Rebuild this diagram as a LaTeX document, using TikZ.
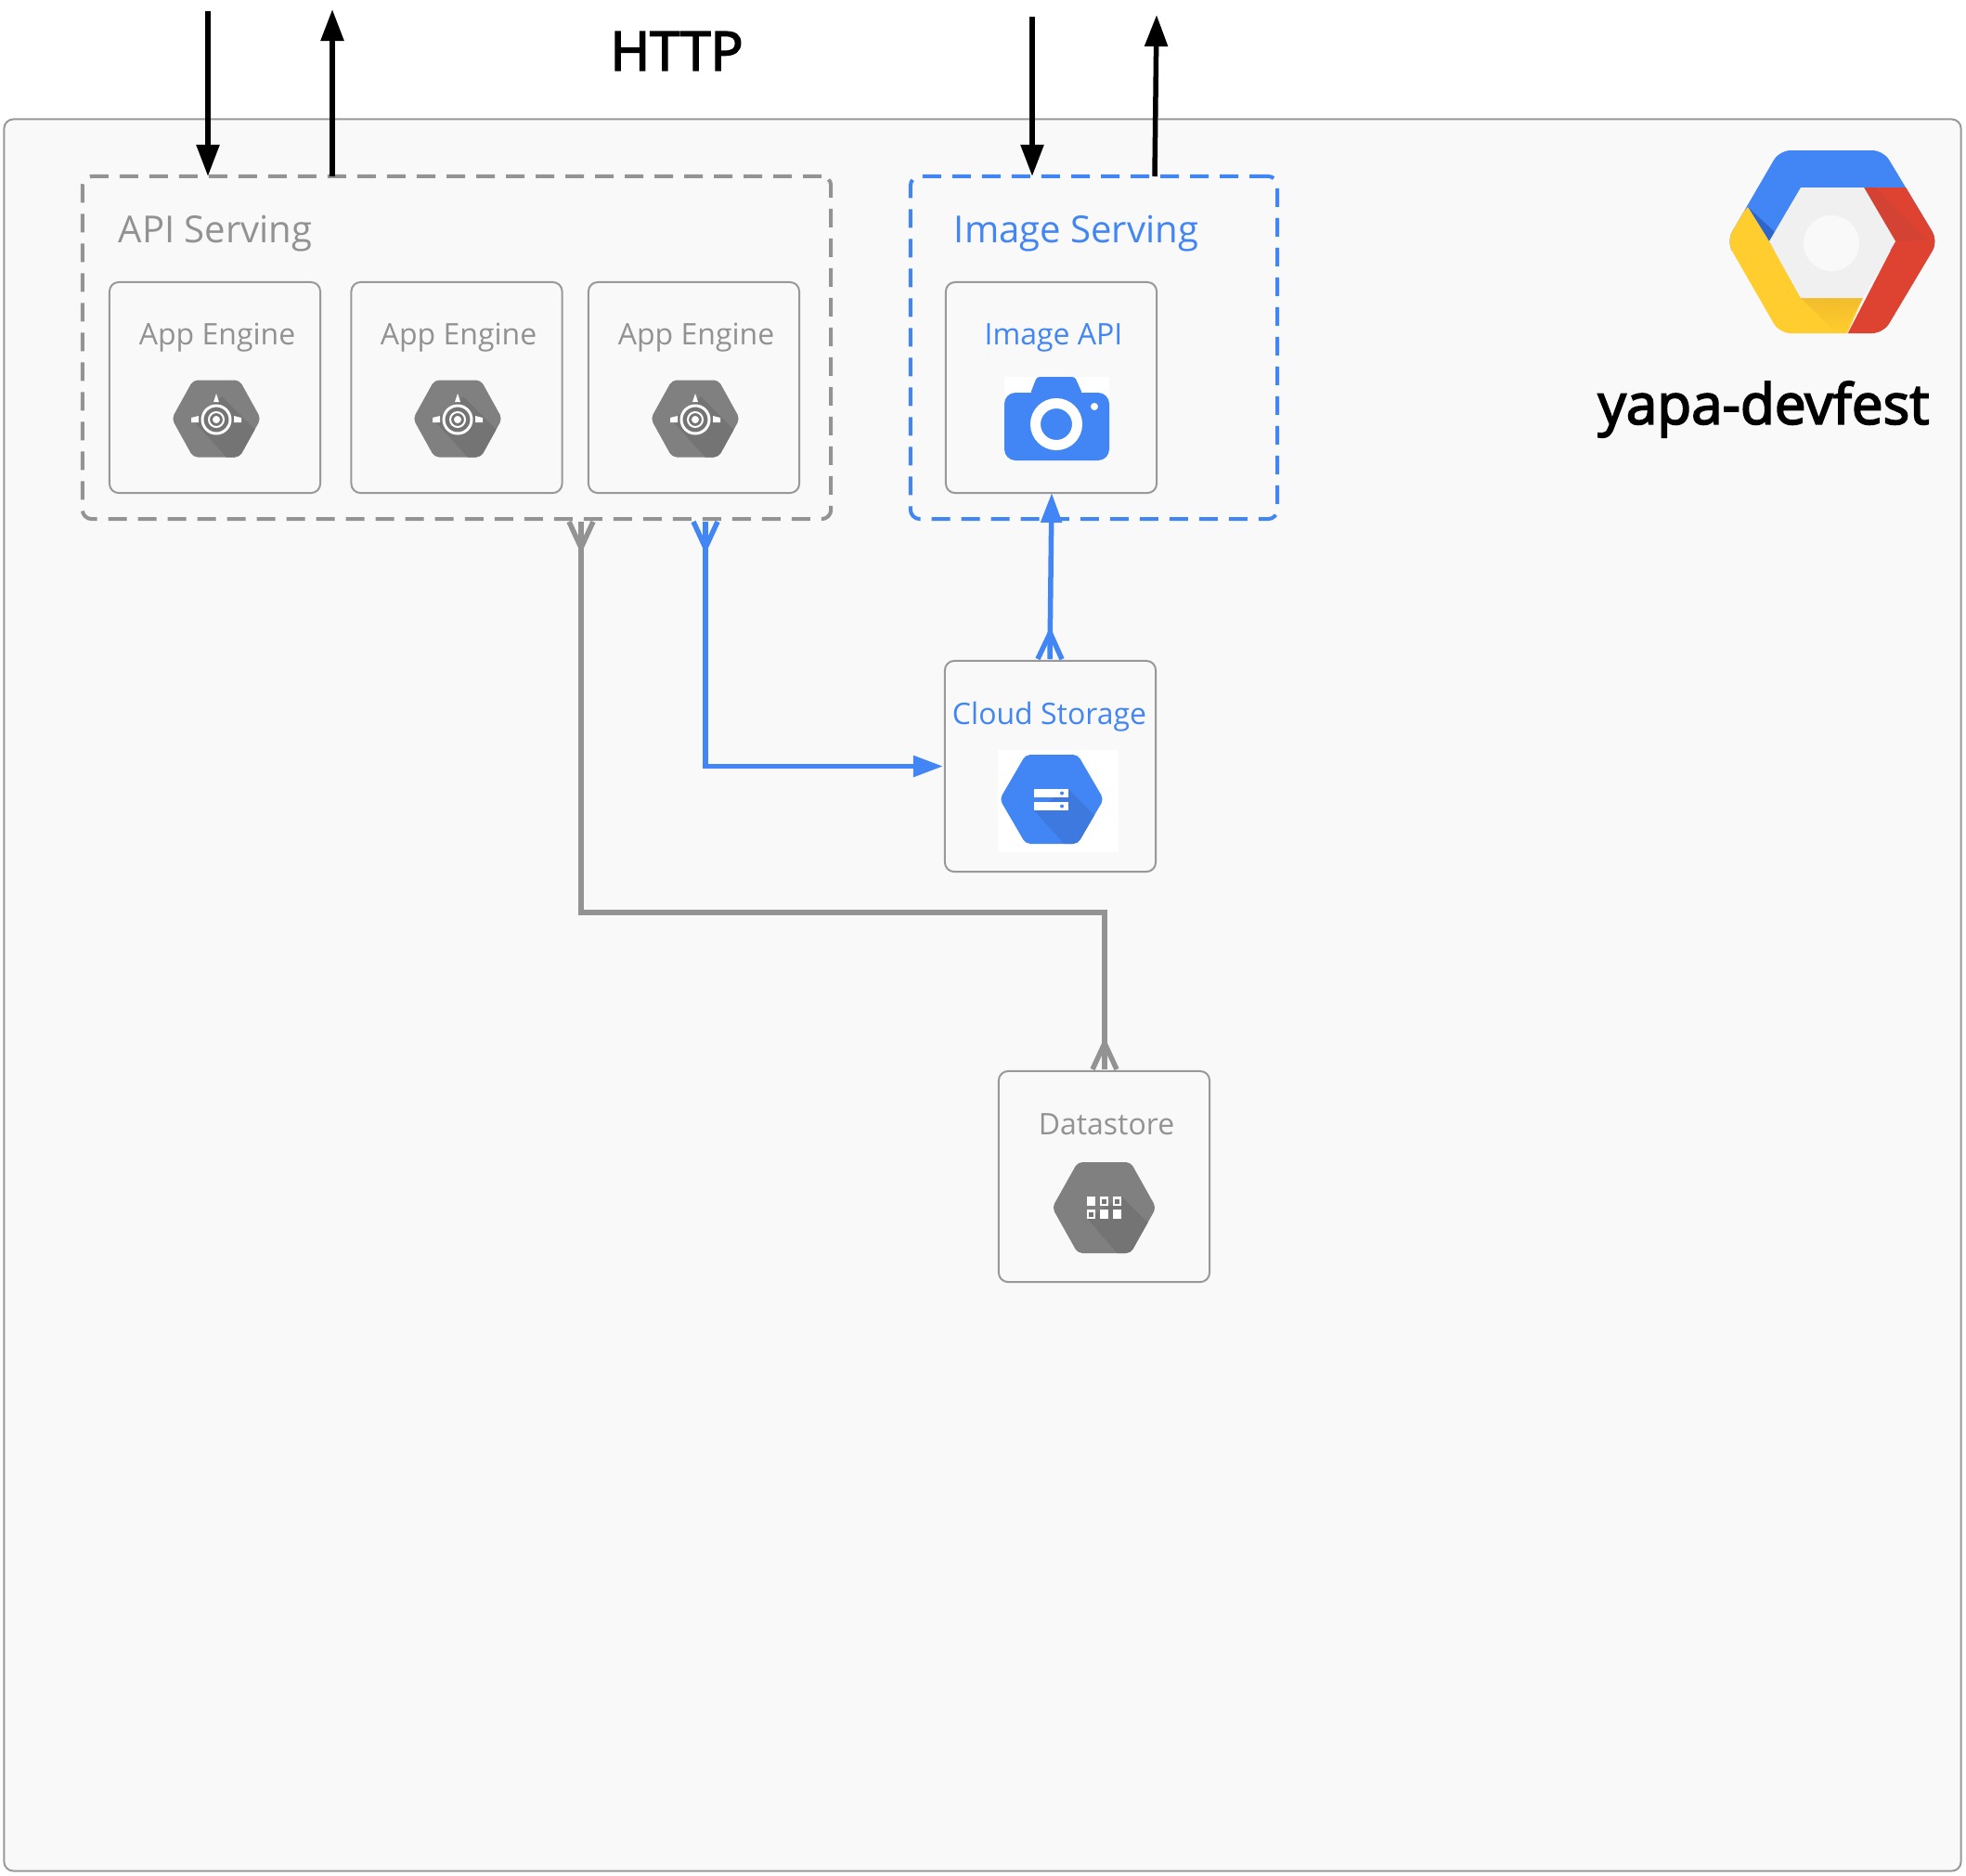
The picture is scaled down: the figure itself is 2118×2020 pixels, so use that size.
\documentclass[tikz,border=0pt]{standalone}
\usepackage{fontspec}
\setmainfont{Open Sans}
\newfontfamily\headfont[FakeBold=3]{Open Sans}
\usetikzlibrary{arrows.meta}

\definecolor{framefill}{HTML}{F9F9F9}
\definecolor{edgegray}{HTML}{999999}
\definecolor{textgray}{HTML}{929292}
\definecolor{linegray}{HTML}{939393}
\definecolor{gblue}{HTML}{4285F4}
\definecolor{gblueshade}{HTML}{3D79DE}
\definecolor{hexgray}{HTML}{808080}
\definecolor{hexshade}{HTML}{747474}
\definecolor{gred}{HTML}{DD4330}
\definecolor{gredshade}{HTML}{D34233}
\definecolor{gyellow}{HTML}{FFCD2E}
\definecolor{gyellowshade}{HTML}{F2BC2B}
\definecolor{gbluedark}{HTML}{2F66CC}

\pgfdeclarearrow{
  name = Crow,
  setup code = {
    \pgfarrowssettipend{0pt}
    \pgfarrowssetlineend{0pt}
    \pgfarrowssetbackend{-8pt}
    \pgfarrowssetvisualbackend{-8pt}
  },
  drawing code = {
    \pgfsetbuttcap
    \pgfpathmoveto{\pgfqpoint{0pt}{3.7pt}}
    \pgfpathlineto{\pgfqpoint{-8pt}{0pt}}
    \pgfpathlineto{\pgfqpoint{0pt}{-3.7pt}}
    \pgfusepathqstroke
  }
}

\newcommand{\hexpath}[3]{({-#1},0) -- ({-#2},{-#3}) -- (#2,{-#3}) -- (#1,0) -- (#2,#3) -- ({-#2},#3) -- cycle}

\tikzset{
  servicebox/.style={draw=edgegray, line width=0.02cm, rounded corners=0.1cm, outer sep=0pt, minimum width=2.27cm, minimum height=2.27cm},
  groupbox/.style={line width=0.04cm, rounded corners=0.1cm, outer sep=0pt, dash pattern=on 0.2cm off 0.12cm},
  graylabel/.style={text=textgray, font=\fontsize{9.1}{11}\selectfont},
  bluelabel/.style={text=gblue, font=\fontsize{9.1}{11}\selectfont},
  http/.style={line width=0.055cm, -{Triangle[length=0.34cm, width=0.24cm]}},
  dataline/.style={line width=0.055cm},
  appicon/.pic={
    \begin{scope}
      \clip[rounded corners=0.05cm] \hexpath{48}{25}{41.5};
      \fill[hexgray] (-50,-45) rectangle (50,45);
      \fill[hexshade] (6,-24) -- (55,25) -- (55,45) -- (14,45) -- (-25,2) -- cycle;
    \end{scope}
    \draw[white, line width=0.03cm] (0,1) circle (15);
    \draw[white, line width=0.02cm] (0,1) circle (8);
    \fill[white] (0,1) circle (4);
    \fill[white] (-3,-18) -- (3,-18) -- (0,-27) -- cycle;
    \fill[white] (-27,-1) -- (-19,-3) -- (-19,4) -- (-27,4) -- cycle;
    \fill[white] (27,-1) -- (19,-3) -- (19,4) -- (27,4) -- cycle;
  },
  storageicon/.pic={
    \fill[white] (-58,-53) rectangle (72,57);
    \begin{scope}
      \clip[rounded corners=0.05cm] \hexpath{56}{28}{48};
      \fill[gblue] (-60,-50) rectangle (60,50);
      \fill[gblueshade] (18,-11) -- (60,31) -- (60,50) -- (15,50) -- (-19,12) -- cycle;
    \end{scope}
    \fill[white] (-19,-11) rectangle (18,-2);
    \fill[white] (-19,3) rectangle (18,12);
    \fill[gblue] (11,-6.5) circle (2);
    \fill[gblue] (11,7.5) circle (2);
  },
  storeicon/.pic={
    \begin{scope}
      \clip[rounded corners=0.05cm] \hexpath{56}{28.5}{49};
      \fill[hexgray] (-60,-50) rectangle (60,50);
      \fill[hexshade] (19,-12) -- (60,29) -- (60,50) -- (15,50) -- (-18,12) -- cycle;
    \end{scope}
    \foreach \cx/\cy in {-14/-7, 14/7, 0/7} \fill[white] (\cx-4.7,\cy-4.7) rectangle (\cx+4.7,\cy+4.7);
    \foreach \cx/\cy in {0/-7, 14/-7, -14/7} {
      \fill[white] (\cx-4.7,\cy-4.7) rectangle (\cx+4.7,\cy+4.7);
      \fill[hexshade] (\cx-2.5,\cy-2.5) rectangle (\cx+2.5,\cy+2.5);
    }
  },
}

\begin{document}
\begin{tikzpicture}[x=0.01cm, y=-0.01cm]
    \useasboundingbox (0,0) rectangle (2118,2020);

    % Project frame
    \node[draw=edgegray, fill=framefill, line width=0.02cm, rounded corners=0.1cm, minimum width=21.07cm, minimum height=18.86cm] (frame) at (1058.5,1072) {};

    % Groups
    \node[groupbox, draw=linegray, minimum width=8.06cm, minimum height=3.69cm] (api) at (492,374.5) {};
    \node[groupbox, draw=gblue, minimum width=3.95cm, minimum height=3.69cm] (img) at (1178.5,374.5) {};
    \node[graylabel, font=\fontsize{11.4}{14}\selectfont] (apilabel) at (232,252) {API Serving};
    \node[bluelabel, font=\fontsize{11.4}{14}\selectfont] (imglabel) at (1159.5,252) {Image Serving};

    % App Engine
    \node[servicebox] (app1) at (231.5,417.5) {};
    \node[servicebox] (app2) at (492,417.5) {};
    \node[servicebox] (app3) at (747.5,417.5) {};
    \node[graylabel] (app1label) at (234,364) {App Engine};
    \node[graylabel] (app2label) at (494,364) {App Engine};
    \node[graylabel] (app3label) at (750,364) {App Engine};
    \pic at (233,451) {appicon};
    \pic at (493,451) {appicon};
    \pic at (749,451) {appicon};

    % Image API
    \node[servicebox] (imgapi) at (1132.5,417.5) {};
    \node[bluelabel] (imgapilabel) at (1135,364) {Image API};
    \fill[white] (1082,406) rectangle (1195,496);
    \fill[gblue, rounded corners=0.12cm] (1082,423) rectangle (1195,496);
    \fill[gblue, rounded corners=0.03cm] (1110,424) -- (1117,406) -- (1158,406) -- (1166,424) -- cycle;
    \draw[white, line width=0.11cm] (1138,457) circle (22.5);
    \fill[white] (1179,438) circle (4);

    % Cloud Storage
    \node[servicebox] (storage) at (1131.5,825.5) {};
    \node[bluelabel] (storagelabel) at (1130.5,772) {Cloud Storage};
    \pic at (1133,861) {storageicon};

    % Datastore
    \node[servicebox] (store) at (1189.5,1267.5) {};
    \node[graylabel] (storelabel) at (1192,1211) {Datastore};
    \pic at (1189.5,1301) {storeicon};

    % Logo
    \begin{scope}
      \clip[rounded corners=0.12cm] (1860,260) -- (1917,162) -- (2029,162) -- (2088,260) -- (2029,359) -- (1917,359) -- cycle;
      \fill[gblue] (1850,150) rectangle (2100,270);
      \fill[gbluedark] (1883,223) -- (1906,260) -- (1912,250) -- cycle;
      \fill[gred] (2008,202) -- (2060,202) -- (2100,260) -- (2040,370) -- (1985,370) -- (2042,260) -- cycle;
      \fill[gredshade] (2008,202) -- (2042,260) -- (2075,258) -- (2020,202) -- cycle;
      \fill[gyellow] (1883,223) -- (1850,260) -- (1910,370) -- (1985,370) -- (2007,321) -- (1940,321) -- (1906,260) -- cycle;
      \shade[top color=gyellowshade, bottom color=gyellow] (1940,321) -- (2007,321) -- (1985,359) -- (1975,355) -- cycle;
    \end{scope}
    \fill[black!6] (1906,260) -- (1940,202) -- (2008,202) -- (2042,260) -- (2007,321) -- (1940,321) -- cycle;
    \fill[framefill] (1973,262) circle (30);
    \node[font=\headfont\fontsize{17.1}{20}\selectfont] (project) at (1900,441) {yapa-devfest};

    % Traffic
    \node[font=\headfont\fontsize{16.5}{19}\selectfont] (proto) at (729,55) {HTTP};
    \coordinate (apiin) at (224,12);
    \coordinate (apiout) at (358,10);
    \coordinate (imgin) at (1112,18);
    \coordinate (imgout) at (1246,16);
    \coordinate (imgfoot) at (1244,190);
    \draw[http] (apiin) -- (api.north -| apiin);
    \draw[http] (api.north -| apiout) -- (apiout);
    \draw[http] (imgin) -- (img.north -| imgin);
    \draw[http] (imgfoot) -- (imgout);

    % Data links
    \coordinate (apistore) at (626,562);
    \coordinate (storebend) at (1190,983);
    \coordinate (storefoot) at (1190,1152);
    \draw[dataline, draw=linegray, Crow-Crow] (apistore) |- (storebend) -- (storefoot);

    \coordinate (apiblue) at (760,562);
    \coordinate (storageup) at (1131,710);
    \coordinate (imgdown) at (1133,531);
    \draw[dataline, draw=gblue, shorten >=0.02cm, Crow-{Triangle[length=0.32cm, width=0.22cm]}] (apiblue) |- (storage.west);
    \draw[dataline, draw=gblue, Crow-{Triangle[length=0.32cm, width=0.22cm]}] (storageup) -- (imgdown);
\end{tikzpicture}
\end{document}
